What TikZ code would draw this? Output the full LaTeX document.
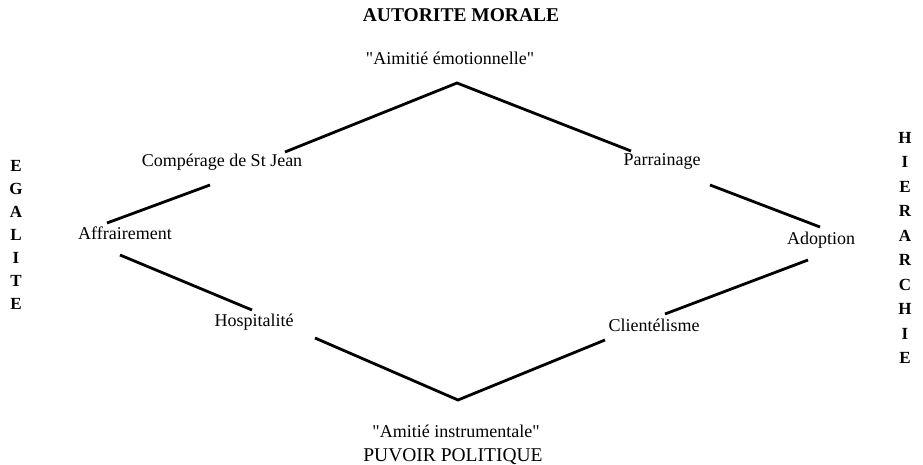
\documentclass[tikz,border=0pt]{standalone}
\usepackage{fontspec}
\setmainfont{Liberation Serif}
\begin{document}
\begin{tikzpicture}[x=1pt,y=-1pt,
  lab/.style={anchor=base,inner sep=0pt,font=\fontsize{18}{20}\selectfont},
  ttl/.style={anchor=base,inner sep=0pt,font=\fontsize{19.5}{22}\selectfont},
  vert/.style={anchor=north,inner sep=0pt,align=center,font=\fontsize{17}{23}\selectfont\bfseries},
  edge/.style={line width=2.8pt,line cap=butt}]
\useasboundingbox (0,0) rectangle (923,465);
% titles
\node[ttl,font=\fontsize{19.5}{22}\selectfont\bfseries] (autorite) at (461,22) {AUTORITE MORALE};
\node[lab] (emo) at (450,65) {\textquotedbl Aimitié émotionnelle\textquotedbl};
\node[lab] (instr) at (456,437) {\textquotedbl Amitié instrumentale\textquotedbl};
\node[ttl] (pouvoir) at (453,461) {PUVOIR POLITIQUE};
% side labels
\node[vert,font=\fontsize{17}{23}\selectfont\bfseries] (egal) at (16,160) {E\\G\\A\\L\\I\\T\\E};
\node[vert,font=\fontsize{17}{24.5}\selectfont\bfseries] (hier) at (905,132) {H\\I\\E\\R\\A\\R\\C\\H\\I\\E};
% labels
\node[lab] (comp) at (222,167) {Compérage de St Jean};
\node[lab] (parr) at (662,166) {Parrainage};
\node[lab] (affr) at (125,239) {Affrairement};
\node[lab] (adop) at (821,244) {Adoption};
\node[lab] (hosp) at (254,326) {Hospitalité};
\node[lab] (clie) at (654,331) {Clientélisme};
% connector end points
\coordinate (top) at (457,83);
\coordinate (bot) at (458,400);
\coordinate (compR) at (285,152);
\coordinate (parrL) at (631,151);
\coordinate (compB) at (210,185);
\coordinate (affrT) at (107,223);
\coordinate (affrB) at (120,255);
\coordinate (hospT) at (252,310);
\coordinate (parrB) at (710,185);
\coordinate (adopT) at (820,227);
\coordinate (adopB) at (808,260);
\coordinate (clieT) at (665,314);
\coordinate (clieB) at (605,340);
\coordinate (hospB) at (315,338);
% connectors
\draw[edge,line join=miter] (compR) -- (top) -- (parrL);
\draw[edge] (compB) -- (affrT);
\draw[edge] (affrB) -- (hospT);
\draw[edge] (parrB) -- (adopT);
\draw[edge] (adopB) -- (clieT);
\draw[edge,line join=miter] (hospB) -- (bot) -- (clieB);
\end{tikzpicture}
\end{document}
